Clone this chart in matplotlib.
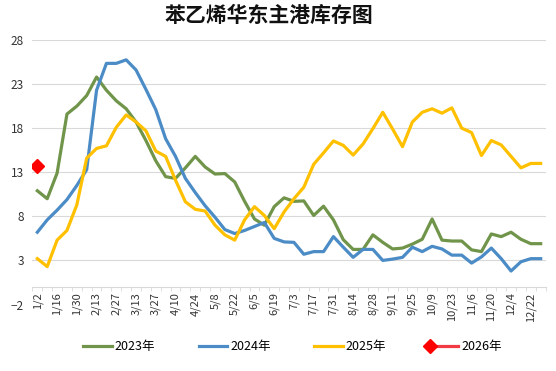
import numpy as np
import matplotlib
matplotlib.use("Agg")
import matplotlib.pyplot as plt
from matplotlib.ticker import FixedLocator
from matplotlib.legend_handler import HandlerLine2D

plt.rcParams["font.family"] = ["Noto Sans CJK SC", "DejaVu Sans"]

# ── DATA ─────────────────────────────────────────────────────────────────────
dates = ["1/2", "1/9", "1/16", "1/23", "1/30", "2/6", "2/13", "2/20", "2/27", "3/6",
         "3/13", "3/20", "3/27", "4/3", "4/10", "4/17", "4/24", "5/1", "5/8", "5/15",
         "5/22", "5/29", "6/5", "6/12", "6/19", "6/26", "7/3", "7/10", "7/17", "7/24",
         "7/31", "8/7", "8/14", "8/21", "8/28", "9/4", "9/11", "9/18", "9/25", "10/2",
         "10/9", "10/16", "10/23", "10/30", "11/6", "11/13", "11/20", "11/27", "12/4", "12/15",
         "12/22", "12/29"]

y2023 = [10.9, 10.0, 12.9, 19.6, 20.5, 21.7, 23.8, 22.3, 21.1, 20.2,
         18.7, 16.6, 14.3, 12.5, 12.3, 13.5, 14.8, 13.6, 12.8, 12.85,
         11.9, 9.7, 7.7, 7.0, 9.1, 10.1, 9.7, 9.75, 8.1, 9.15,
         7.6, 5.35, 4.25, 4.25, 5.9, 5.05, 4.3, 4.4, 4.85, 5.4,
         7.7, 5.3, 5.2, 5.2, 4.2, 4.0, 6.0, 5.7, 6.2, 5.4,
         4.9, 4.9]

y2024 = [6.2, 7.6, 8.7, 9.9, 11.5, 13.3, 22.3, 25.35, 25.35, 25.75,
         24.6, 22.4, 20.1, 16.8, 14.8, 12.3, 10.7, 9.2, 7.9, 6.5,
         6.05, 6.4, 6.85, 7.3, 5.5, 5.1, 5.05, 3.7, 4.0, 4.0,
         5.7, 4.5, 3.35, 4.25, 4.25, 3.0, 3.15, 3.35, 4.5, 4.0,
         4.6, 4.3, 3.6, 3.6, 2.7, 3.4, 4.4, 3.2, 1.8, 2.85,
         3.2, 3.2]

y2025 = [3.2, 2.3, 5.3, 6.4, 9.3, 14.6, 15.7, 16.0, 18.1, 19.5,
         18.7, 17.7, 15.4, 14.8, 12.1, 9.65, 8.8, 8.6, 7.0, 5.9,
         5.3, 7.6, 9.1, 8.1, 6.6, 8.5, 10.0, 11.3, 13.9, 15.2,
         16.55, 16.05, 14.95, 16.2, 17.95, 19.8, 17.9, 15.9, 18.7, 19.8,
         20.2, 19.7, 20.3, 18.0, 17.5, 14.9, 16.6, 16.1, 14.8, 13.5,
         14.0, 14.0]

y2026 = [13.7]

yticks = [-2, 3, 8, 13, 18, 23, 28]


# legend handle with the marker on the left end of the line, like the source
class LeftMarker(HandlerLine2D):
    def create_artists(self, *args, **kwargs):
        artists = super().create_artists(*args, **kwargs)
        for a in artists:
            if a.get_marker() not in (None, "None", ""):
                a.set_markevery([0])
        return artists


# ── PLOT ─────────────────────────────────────────────────────────────────────
fig = plt.figure(figsize=(5.56, 3.71), dpi=100)
ax = fig.add_axes([0.0583, 0.1792, 0.9230, 0.7130])

for side in ["top", "right", "left"]:
    ax.spines[side].set_visible(False)
ax.spines["bottom"].set_position(("data", 0))
ax.spines["bottom"].set_color("#D9D9D9")

x = np.arange(len(dates))
ax.plot(x, y2023, color="#70954A", lw=2.3, label="2023年")
ax.plot(x, y2024, color="#4B8BC6", lw=2.3, label="2024年")
ax.plot(x, y2025, color="#FFC000", lw=2.3, label="2025年")
l26, = ax.plot(x[:len(y2026)], y2026, color="#F23A45", lw=2.3, marker="D", markersize=7,
               markerfacecolor="#FF0000", markeredgecolor="#FF0000", label="2026年")

ax.set_xlim(-0.5, len(dates) - 0.5)
ax.set_ylim(-2, 28)
ax.set_yticks(yticks)
ax.yaxis.grid(True, color="#D9D9D9", lw=0.8)
ax.get_ygridlines()[0].set_visible(False)
ax.set_axisbelow(True)

ax.set_xticks(x[::2])
ax.set_xticklabels(dates[::2], rotation=90, fontsize=8, color="#333333", va="top")
ax.xaxis.set_minor_locator(FixedLocator(np.arange(-0.5, len(dates), 1)))
ax.tick_params(axis="x", which="major", length=0, pad=4)
ax.tick_params(axis="x", which="minor", length=3, color="#D9D9D9", direction="out")
ax.tick_params(axis="y", length=0, pad=6, labelsize=8.5, labelcolor="#333333")

fig.text(0.484, 0.958, "苯乙烯华东主港库存图", ha="center", va="center",
         fontsize=15, fontweight="bold", color="#111111")

fig.legend(loc="center", bbox_to_anchor=(0.526, 0.065), ncol=4, frameon=False,
           fontsize=9, handlelength=2.3, handletextpad=0.25, columnspacing=3.45,
           numpoints=1, handler_map={l26: LeftMarker()})

fig.savefig("out.png", dpi=100)
